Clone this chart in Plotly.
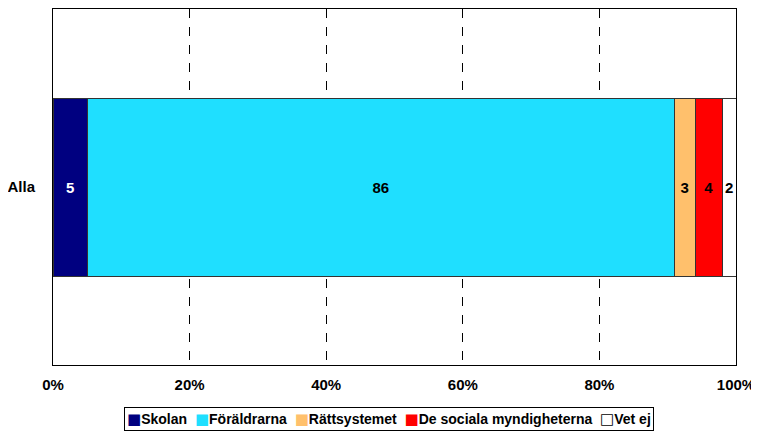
import plotly.graph_objects as go

categories = ["Alla"]
series_names = ["Skolan", "Föräldrarna", "Rättsystemet", "De sociala myndigheterna", "Vet ej"]
series_values = [[5], [86], [3], [4], [2]]
colors = ["#000080", "#1FDFFF", "#FFC06C", "#FF0000", "#FFFFFF"]
text_colors = ["white", "black", "black", "black", "black"]
tick_vals = [0, 20, 40, 60, 80, 100]
tick_text = ["0%", "20%", "40%", "60%", "80%", "100%"]

FONT = "Liberation Sans, Arial, sans-serif"

fig = go.Figure()
for name, vals, col, tc in zip(series_names, series_values, colors, text_colors):
    fig.add_trace(go.Bar(
        y=categories, x=vals, name=name, orientation="h",
        marker=dict(color=col, line=dict(color="#333333", width=1)),
        text=[str(v) for v in vals], textposition="inside", insidetextanchor="middle",
        textangle=0, constraintext="none",
        textfont=dict(family=FONT, size=15, color=tc, weight="bold"),
        width=0.5, showlegend=False,
    ))

# legend drawn as a bordered text box built from the series names/colours
parts = []
for name, col in zip(series_names, colors):
    if col.upper() == "#FFFFFF":
        sym = "<span style='color:black;font-family:DejaVu Sans;font-size:15px'>□</span>"
    else:
        sym = f"<span style='color:{col};font-family:DejaVu Sans;font-size:15px'>■</span>"
    parts.append(sym + name)
legend_text = "&nbsp;&nbsp;".join(parts)

fig.add_annotation(
    text=legend_text, xref="paper", yref="paper",
    x=0.492, y=-0.153, xanchor="center", yanchor="middle",
    showarrow=False, align="left",
    font=dict(family=FONT, size=14, color="black", weight="bold"),
    bordercolor="black", borderwidth=1, borderpad=2, bgcolor="white",
)

fig.update_layout(
    barmode="stack",
    width=751, height=423,
    margin=dict(l=45, r=23, t=1, b=66, autoexpand=False),
    paper_bgcolor="white", plot_bgcolor="white",
    font=dict(family=FONT, size=15, color="black"),
    showlegend=False,
    uniformtext=dict(mode=False),
)
fig.update_xaxes(
    range=[0, 100], tickvals=tick_vals, ticktext=tick_text,
    showgrid=True, gridcolor="black", griddash="dash", gridwidth=1,
    showline=True, linecolor="black", linewidth=1, mirror=True,
    zeroline=False, ticks="", ticklen=0, automargin=False,
    tickfont=dict(family=FONT, size=15, color="black", weight="bold"),
    ticklabelstandoff=6,
)
fig.update_yaxes(
    range=[-0.5, 0.5],
    showline=True, linecolor="black", linewidth=1, mirror=True,
    showgrid=False, zeroline=False, ticks="", automargin=False,
    tickfont=dict(family=FONT, size=15, color="black", weight="bold"),
    ticklabelstandoff=14,
)

fig.write_html("out.html")
